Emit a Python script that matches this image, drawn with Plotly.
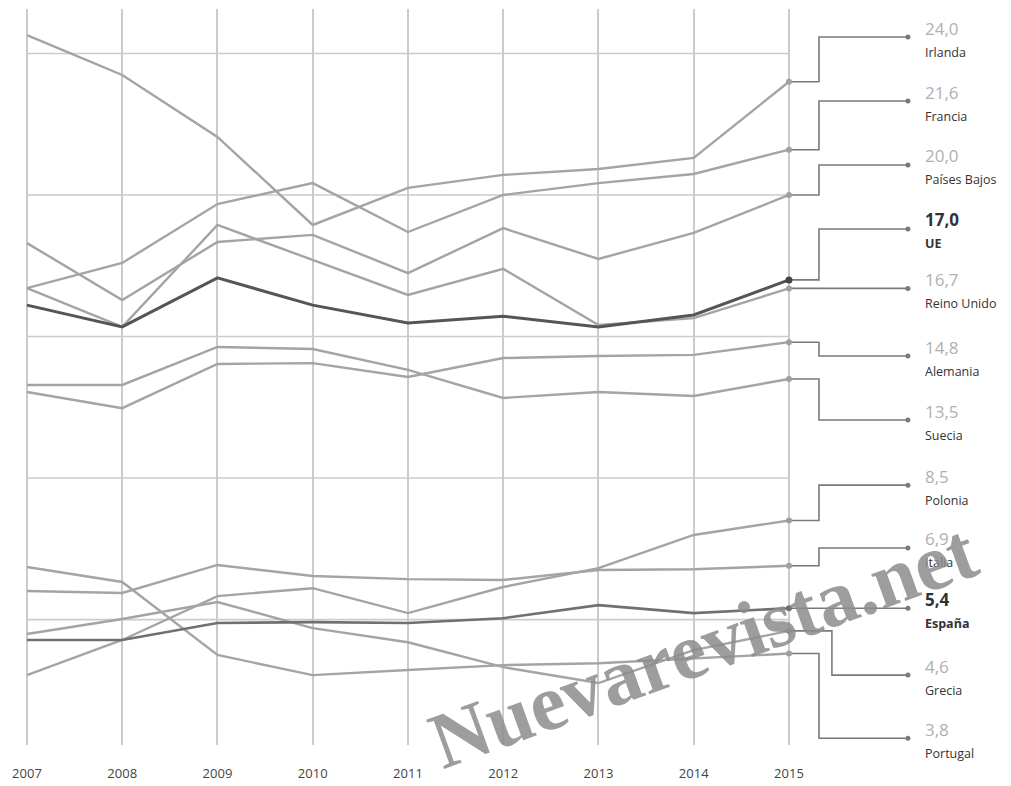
import plotly.graph_objects as go

# ---------------- data ----------------
years = [2007, 2008, 2009, 2010, 2011, 2012, 2013, 2014, 2015]
year_labels = [str(y) for y in years]

irlanda = [25.65, 24.24, 22.05, 18.94, 20.25, 20.71, 20.92, 21.31, 24.0]
francia = [16.71, 17.60, 19.68, 20.42, 18.69, 20.00, 20.42, 20.74, 21.6]
paises_bajos = [18.30, 16.29, 18.34, 18.59, 17.24, 18.83, 17.74, 18.66, 20.0]
ue = [16.11, 15.34, 17.07, 16.11, 15.48, 15.72, 15.34, 15.76, 17.0]
reino_unido = [16.71, 15.34, 18.94, 17.70, 16.47, 17.39, 15.41, 15.65, 16.7]
alemania = [13.04, 12.47, 14.03, 14.06, 13.57, 14.24, 14.31, 14.35, 14.8]
suecia = [13.29, 13.29, 14.63, 14.56, 13.82, 12.83, 13.04, 12.90, 13.5]
polonia = [3.04, 4.28, 5.83, 6.11, 5.23, 6.15, 6.82, 7.99, 8.5]
italia = [6.01, 5.94, 6.93, 6.54, 6.43, 6.40, 6.75, 6.78, 6.9]
espana = [4.28, 4.28, 4.88, 4.91, 4.88, 5.05, 5.51, 5.23, 5.4]
grecia = [4.49, 5.02, 5.62, 4.70, 4.20, 3.32, 2.76, 3.92, 4.6]
portugal = [6.86, 6.33, 3.75, 3.04, 3.22, 3.39, 3.46, 3.64, 3.8]

names = ["Irlanda", "Francia", "Países Bajos", "UE", "Reino Unido", "Alemania",
         "Suecia", "Polonia", "Italia", "España", "Grecia", "Portugal"]
series = [irlanda, francia, paises_bajos, ue, reino_unido, alemania,
          suecia, polonia, italia, espana, grecia, portugal]

grid_values = [5, 10, 15, 20, 25]

# ---------------- layout helpers (positions / styles) ----------------
label_y = [25.58, 23.32, 21.06, 18.80, 16.7, 14.31, 12.05, 9.75, 7.53, 5.4, 3.04, 0.81]
elbow_x = [2015.315] * 12
elbow_x[10] = 2015.451
dot_x = 2016.249
text_x = 2016.407

GRAY = "#a4a4a4"
GRID = "#cbcbcb"
CONN = "#7a7a7a"
styles = {
    "UE": dict(color="#555555", width=3),
    "España": dict(color="#707070", width=2.6),
}
bold = {"UE", "España"}

fig = go.Figure()

# horizontal gridlines limited to the years span
for g in grid_values:
    fig.add_shape(type="line", xref="x", yref="y", x0=years[0], x1=years[-1],
                  y0=g, y1=g, line=dict(color=GRID, width=1.6), layer="below")

# gray series first, dark ones on top
order = [i for i, n in enumerate(names) if n not in bold] + \
        [i for i, n in enumerate(names) if n in bold]
for i in order:
    n = names[i]
    vals = series[i]
    st = styles.get(n, dict(color=GRAY, width=2.4))
    fig.add_trace(go.Scatter(x=years, y=vals, mode="lines", line=st,
                             hoverinfo="skip", showlegend=False))

# connectors
for i, n in enumerate(names):
    v = series[i][-1]
    xs = [years[-1], elbow_x[i], elbow_x[i], dot_x]
    ys = [v, v, label_y[i], label_y[i]]
    fig.add_trace(go.Scatter(x=xs, y=ys, mode="lines",
                             line=dict(color=CONN, width=1.6),
                             hoverinfo="skip", showlegend=False))
    fig.add_trace(go.Scatter(x=[dot_x], y=[label_y[i]], mode="markers",
                             marker=dict(color=CONN, size=5),
                             hoverinfo="skip", showlegend=False))
    mc = "#444444" if n == "UE" else ("#707070" if n == "España" else "#a0a0a0")
    fig.add_trace(go.Scatter(x=[years[-1]], y=[v], mode="markers",
                             marker=dict(color=mc, size=7 if n == "UE" else 6),
                             hoverinfo="skip", showlegend=False))

# labels
for i, n in enumerate(names):
    v = series[i][-1]
    num = f"{v:.1f}".replace(".", ",")
    is_b = n in bold
    fig.add_annotation(x=text_x, y=label_y[i], xref="x", yref="y",
                       text=f"<b>{num}</b>" if is_b else num,
                       showarrow=False, xanchor="left", yanchor="middle",
                       yshift=9,
                       font=dict(family="Open Sans", size=17,
                                 color="#333333" if is_b else "#b0b0b0"))
    fig.add_annotation(x=text_x, y=label_y[i], xref="x", yref="y",
                       text=f"<b>{n}</b>" if is_b else n,
                       showarrow=False, xanchor="left", yanchor="middle",
                       yshift=-15,
                       font=dict(family="Open Sans", size=12.5, color="#333333"))

# watermark
fig.add_annotation(xref="paper", yref="paper", x=0.695, y=0.135,
                   text="<b>Nuevarevista.net</b>", showarrow=False,
                   textangle=-20, xanchor="center", yanchor="middle",
                   font=dict(family="Liberation Serif", size=80,
                             color="rgba(140,140,140,0.85)"))

fig.update_layout(
    width=1011, height=786,
    margin=dict(l=0, r=0, t=9, b=41),
    paper_bgcolor="white", plot_bgcolor="white",
    xaxis=dict(range=[2006.717, 2017.331], tickvals=years, ticktext=year_labels,
               showgrid=True, gridcolor=GRID, gridwidth=1.6, zeroline=False,
               showline=False, ticks="outside", ticklen=16,
               tickcolor="rgba(0,0,0,0)",
               tickfont=dict(family="Open Sans", size=13, color="#444444")),
    yaxis=dict(range=[0.57, 26.57], showgrid=False, zeroline=False,
               showticklabels=False, showline=False),
)

fig.write_html("out.html", config={"displayModeBar": False},
               post_script="document.body.style.margin='0px';document.body.style.overflow='hidden';")
